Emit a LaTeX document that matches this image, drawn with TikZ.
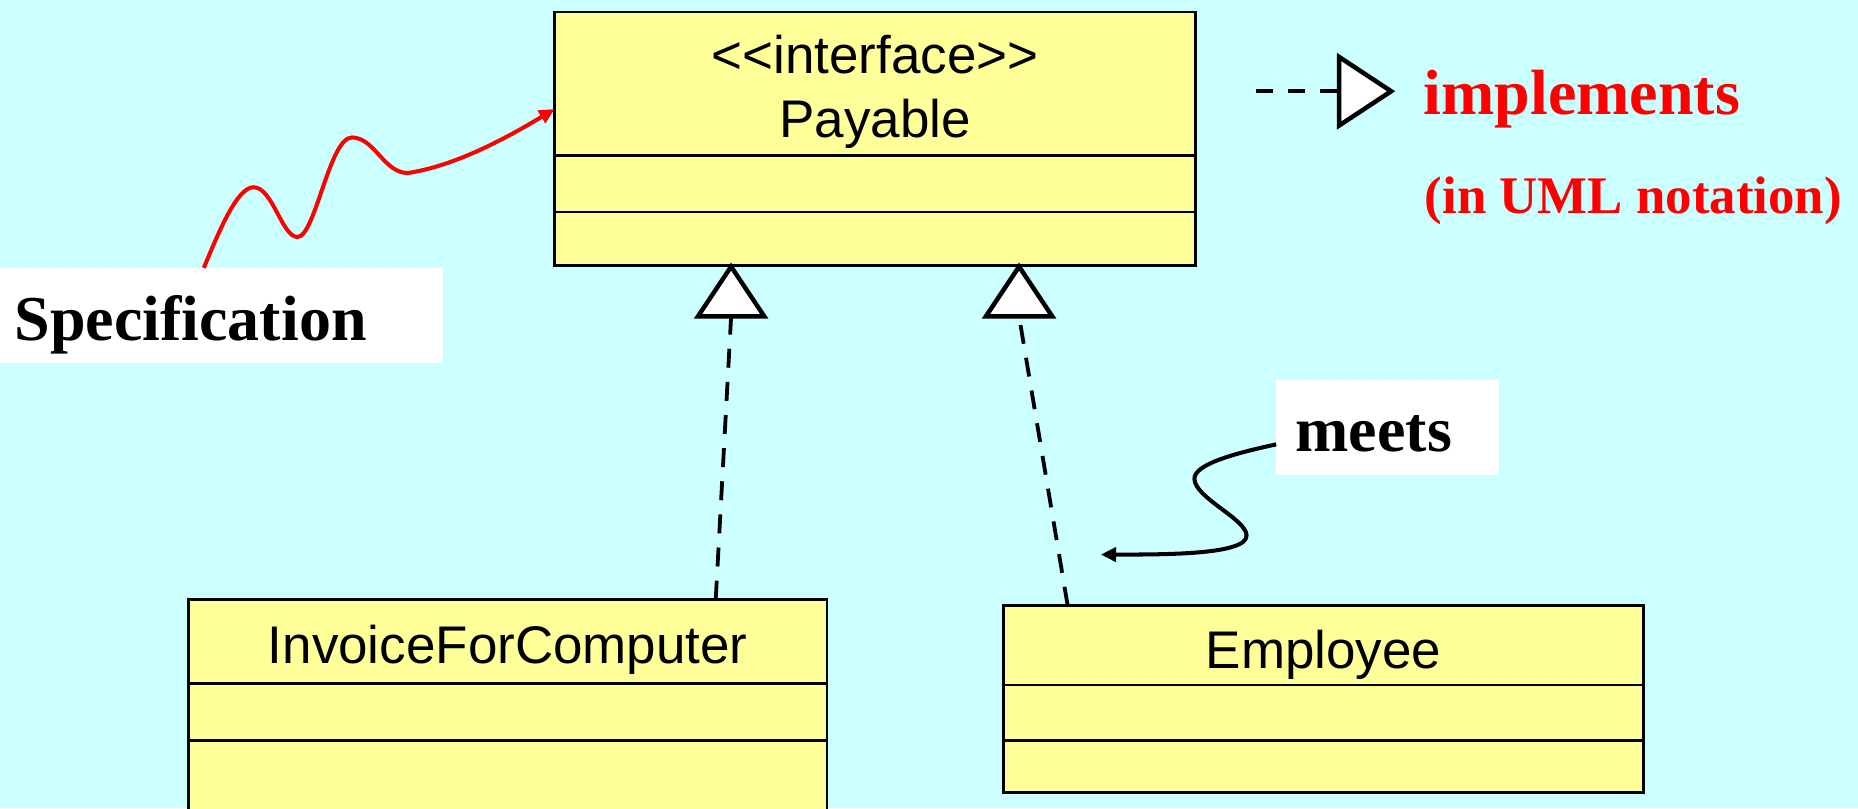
\documentclass[tikz,border=0pt]{standalone}
\usepackage{fontspec}
\setmainfont{Liberation Serif}
\setsansfont{Liberation Sans}
\usetikzlibrary{arrows.meta,fit}
\definecolor{bgcyan}{HTML}{CCFFFF}
\definecolor{classyellow}{HTML}{FFFF99}
\definecolor{notered}{HTML}{FF0000}

\begin{document}
\begin{tikzpicture}[x=0.5pt,y=-0.5pt,
  classbox/.style={draw, fill=classyellow, line width=1.1pt, inner sep=0pt, outer sep=0pt},
  divider/.style={line width=1.1pt},
  classname/.style={font=\sffamily\fontsize{22.35pt}{26pt}\selectfont, anchor=base, inner sep=0pt},
  whitebox/.style={fill=white, inner sep=0pt, outer sep=0pt},
  bigword/.style={font=\bfseries\fontsize{27pt}{32pt}\selectfont, anchor=base west, inner sep=0pt},
  smallword/.style={font=\bfseries\fontsize{22.3pt}{26pt}\selectfont, anchor=base west, inner sep=0pt},
  realize/.style={line width=1.6pt, dash pattern=on 8pt off 6pt},
  hollowtri/.style={draw, fill=white, line width=1.9pt, line join=miter},
  remark/.style={line width=1.7pt, -{Triangle[length=6.5pt,width=6pt]}}
]
\useasboundingbox (0,0) rectangle (1568,682);
\fill[bgcyan] (0,0) rectangle (1568,682);
\clip (0,0) rectangle (1568,682);

% interface Payable
\coordinate (p1) at (468,10);
\coordinate (p2) at (1009,224);
\node[classbox, fit=(p1)(p2)] (pay) {};
\draw[divider] (pay.west |- 0,131) -- (pay.east |- 0,131);
\draw[divider] (pay.west |- 0,179) -- (pay.east |- 0,179);
\node[classname] (paystereo) at (738.5,62) {<{}<interface>{}>};
\node[classname] (payname) at (738.5,116) {Payable};

% class InvoiceForComputer
\coordinate (i1) at (159,506);
\coordinate (i2) at (698,720);
\node[classbox, fit=(i1)(i2)] (inv) {};
\draw[divider] (inv.west |- 0,577) -- (inv.east |- 0,577);
\draw[divider] (inv.west |- 0,625) -- (inv.east |- 0,625);
\node[classname] (invname) at (428.5,560) {InvoiceForComputer};

% class Employee
\coordinate (e1) at (847,511);
\coordinate (e2) at (1387,669);
\node[classbox, fit=(e1)(e2)] (emp) {};
\draw[divider] (emp.west |- 0,578) -- (emp.east |- 0,578);
\draw[divider] (emp.west |- 0,625) -- (emp.east |- 0,625);
\node[classname] (empname) at (1117,564) {Employee};

% realization arrows: hollow triangles under the interface
\coordinate (baseL) at (617,267);
\coordinate (baseR) at (860,267);
\draw[hollowtri] (baseL) ++(-28,0) -- ++(28,-42) -- ++(28,42) -- cycle;
\draw[hollowtri] (baseR) ++(-28,0) -- ++(28,-42) -- ++(28,42) -- cycle;
\draw[realize] (604,0 |- inv.north) -- (baseL);
\draw[realize] (901,0 |- emp.north) -- (baseR);

% legend
\coordinate (legstart) at (1060,77);
\coordinate (legtri) at (1130,77);
\draw[line width=1.6pt, dash pattern=on 7pt off 6.5pt] (legstart) -- (legtri);
\draw[hollowtri] (legtri) ++(0,-29) -- ++(44,29) -- ++(-44,29) -- cycle;
\node[bigword, text=notered] (impl) at (1201,97) {implements};
\node[smallword, text=notered] (uml) at (1202,180) {(in UML notation)};

% Specification label
\coordinate (s1) at (0,226);
\coordinate (s2) at (374,306);
\node[whitebox, fit=(s1)(s2)] (spec) {};
\node[bigword] (spectxt) at (12,287) {Specification};
\draw[remark, notered] (172,0 |- spec.north)
  .. controls (185,195) and (200,158) .. (214,158)
  .. controls (230,158) and (238,200) .. (251,200)
  .. controls (266,200) and (278,116) .. (297,116)
  .. controls (316,116) and (324,146) .. (344,146)
  .. controls (385,140) and (430,115) .. (pay.west |- 0,92);

% meets label
\coordinate (m1) at (1077,321);
\coordinate (m2) at (1265,401);
\node[whitebox, fit=(m1)(m2)] (meetsbox) {};
\node[bigword] (meetstxt) at (1093,381) {meets};
\coordinate (meetstip) at (929,468);
\draw[remark] (meetsbox.west |- 0,375)
  .. controls (1040,383) and (1008,392) .. (1008,404)
  .. controls (1008,420) and (1052,438) .. (1052,452)
  .. controls (1052,468) and (985,468) .. (meetstip);
\end{tikzpicture}
\end{document}
